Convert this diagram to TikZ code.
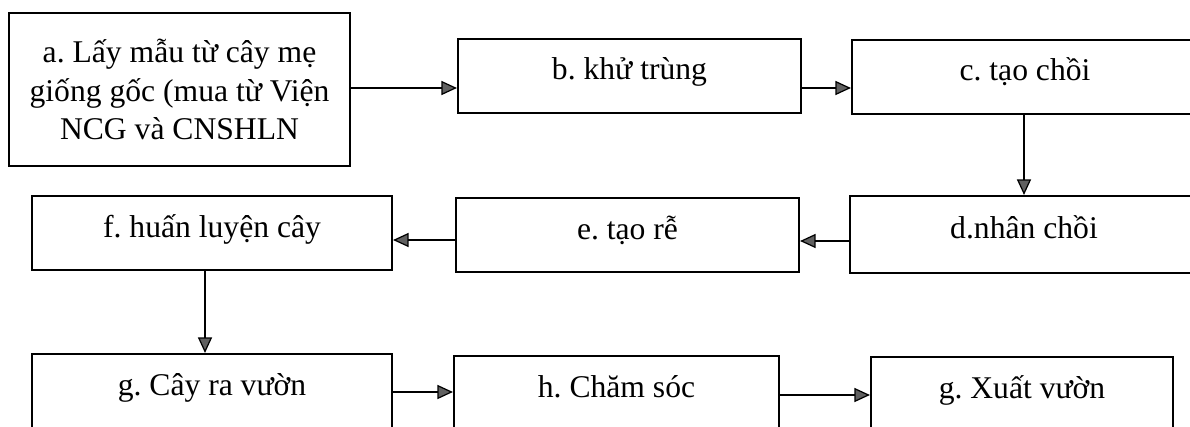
\documentclass[tikz,border=0pt]{standalone}
\usepackage{fontspec}
\setmainfont{Liberation Serif}
\frenchspacing
\usetikzlibrary{arrows.meta}
\tikzset{
  box/.style={draw=black, line width=1.2pt, fill=white, inner sep=0pt,
    font=\fontsize{18}{22}\selectfont\frenchspacing, text height=0.4cm, text depth=0.24cm},
  abox/.style={draw=black, line width=1.2pt, fill=white, inner sep=0pt,
    font=\fontsize{18}{22}\selectfont\frenchspacing, align=center},
  arr/.style={line width=0.9pt, draw=black,
    -{Triangle[length=0.31cm, width=0.28cm, fill=gray!75!black, line width=0.7pt]}}
}
\begin{document}
\begin{tikzpicture}[x=0.02cm, y=-0.02cm]
\clip (0,0) rectangle (1190,426);
\fill[white] (0,0) rectangle (1190,426);

\node[abox, minimum width=341*0.02cm, minimum height=153*0.02cm] (a) at (179.5,89.5)
  {a. Lấy mẫu từ cây mẹ\\giống gốc (mua từ Viện\\NCG và CNSHLN};
\node[box, minimum width=343*0.02cm, minimum height=74*0.02cm] (b) at (629.5,76) {b. khử trùng};
\node[box, minimum width=346*0.02cm, minimum height=74*0.02cm] (c) at (1025,77) {c. tạo chồi};
\node[box, minimum width=348*0.02cm, minimum height=77*0.02cm] (d) at (1024,234.5) {d.nhân chồi};
\node[box, minimum width=343*0.02cm, minimum height=74*0.02cm] (e) at (627.5,235) {e. tạo rễ};
\node[box, minimum width=360*0.02cm, minimum height=74*0.02cm] (f) at (212,233) {f. huấn luyện cây};
\node[box, minimum width=360*0.02cm, minimum height=74*0.02cm] (g) at (212,391) {g. Cây ra vườn};
\node[box, minimum width=325*0.02cm, minimum height=74*0.02cm] (h) at (616.5,393) {h. Chăm sóc};
\node[box, minimum width=302*0.02cm, minimum height=74*0.02cm] (x) at (1022,394) {g. Xuất vườn};

\coordinate (yab) at (0,88);
\coordinate (ybc) at (0,88);
\coordinate (xcd) at (1024,0);
\coordinate (yde) at (0,241);
\coordinate (yef) at (0,240);
\coordinate (xfg) at (205,0);
\coordinate (ygh) at (0,392);
\coordinate (yhx) at (0,395);

\draw[arr] (a.east |- yab) -- (b.west |- yab);
\draw[arr] (b.east |- ybc) -- (c.west |- ybc);
\draw[arr] (c.south -| xcd) -- (d.north -| xcd);
\draw[arr] (d.west |- yde) -- (e.east |- yde);
\draw[arr] (e.west |- yef) -- (f.east |- yef);
\draw[arr] (f.south -| xfg) -- (g.north -| xfg);
\draw[arr] (g.east |- ygh) -- (h.west |- ygh);
\draw[arr] (h.east |- yhx) -- (x.west |- yhx);
\end{tikzpicture}
\end{document}
